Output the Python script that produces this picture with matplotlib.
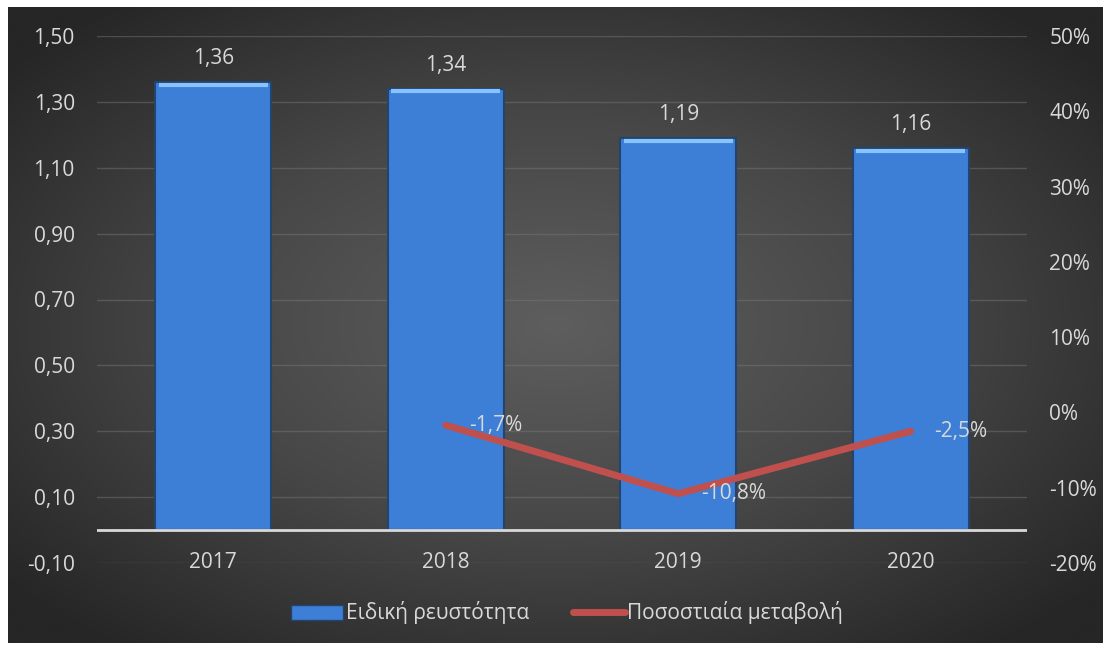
import numpy as np
import matplotlib.pyplot as plt
from matplotlib.colors import LinearSegmentedColormap

years = ['2017', '2018', '2019', '2020']
liquidity = [1.36, 1.34, 1.19, 1.16]
change_years = ['2018', '2019', '2020']
change_pct = [-1.7, -10.8, -2.5]

left_ticks = [-0.10, 0.10, 0.30, 0.50, 0.70, 0.90, 1.10, 1.30, 1.50]
right_ticks = [-20, -10, 0, 10, 20, 30, 40, 50]

plt.rcParams['font.family'] = ['Open Sans', 'DejaVu Sans']
txt = '#d9d9d9'
fs = 15

fig = plt.figure(figsize=(11.1, 6.51), dpi=100)
fig.patch.set_facecolor('white')

# dark radial gradient background
bg = fig.add_axes([8 / 1110, 8 / 651, 1095 / 1110, 636 / 651])
yy, xx = np.mgrid[-1:1:300j, -1:1:500j]
r = np.clip(np.sqrt(xx ** 2 + yy ** 2) / 1.3, 0, 1)
cmap = LinearSegmentedColormap.from_list('bg', ['#5e5e5e', '#474747', '#262626'])
bg.imshow(r, cmap=cmap, vmin=0, vmax=1, aspect='auto',
          extent=[0, 1, 0, 1], interpolation='bicubic')
bg.set_axis_off()

ax = fig.add_axes([97 / 1110, 1 - 563 / 651, 930 / 1110, 527 / 651])
ax.patch.set_alpha(0)
x = np.arange(len(years))
ax.bar(x, liquidity, width=0.5, color='#3d7fd6', edgecolor='#24446e',
       linewidth=1.5, zorder=3)
ax.hlines(np.array(liquidity) - 0.008, x - 0.235, x + 0.235, color='#86c4ff',
          linewidth=3, zorder=4)
for xi, v in zip(x, liquidity):
    ax.text(xi, v + 0.04, f'{v:.2f}'.replace('.', ','), ha='center', va='bottom',
            color=txt, fontsize=fs)

ax.set_xlim(-0.5, 3.5)
ax.set_ylim(-0.10, 1.50)
ax.set_yticks(left_ticks)
ax.set_yticklabels([f'{t:.2f}'.replace('.', ',') for t in left_ticks])
ax.set_xticks(x)
ax.set_xticklabels(years)
ax.tick_params(colors=txt, labelsize=fs, length=0)
ax.tick_params(axis='y', pad=16)
ax.tick_params(axis='x', pad=-8)
for t in ax.get_yticklabels() + ax.get_xticklabels():
    t.set_color(txt)
ax.grid(axis='y', color='#7a7a7a', linewidth=1, alpha=0.45, zorder=0)
ax.axhline(0, color='#d9d9d9', linewidth=2, zorder=5)
for s in ax.spines.values():
    s.set_visible(False)

ax2 = ax.twinx()
ax2.set_ylim(-20, 50)
ax2.set_yticks(right_ticks)
ax2.set_yticklabels([f'{t}%' for t in right_ticks])
ax2.tick_params(colors=txt, labelsize=fs, length=0, pad=16)
for t in ax2.get_yticklabels():
    t.set_color(txt)
for s in ax2.spines.values():
    s.set_visible(False)
cx = [years.index(y) for y in change_years]
line, = ax2.plot(cx, change_pct, color='#c0504d', linewidth=5,
                 solid_capstyle='round', solid_joinstyle='miter', zorder=6)
for xi, v in zip(cx, change_pct):
    ax2.text(xi + 0.1, v, f'{v:.1f}%'.replace('.', ','), ha='left', va='center',
             color=txt, fontsize=fs, zorder=7)

handles = [plt.Rectangle((0, 0), 1, 1, facecolor='#3d7fd6', edgecolor='#24446e'), line]
leg = fig.legend(handles, ['Ειδική ρευστότητα', 'Ποσοστιαία μεταβολή'],
                 loc='center', bbox_to_anchor=(567 / 1110, 1 - 613 / 651), ncol=2,
                 frameon=False, fontsize=fs, handlelength=2.5, handletextpad=0.1,
                 columnspacing=2.1)
for t in leg.get_texts():
    t.set_color(txt)

fig.savefig('out.png', dpi=100, facecolor=fig.get_facecolor())
